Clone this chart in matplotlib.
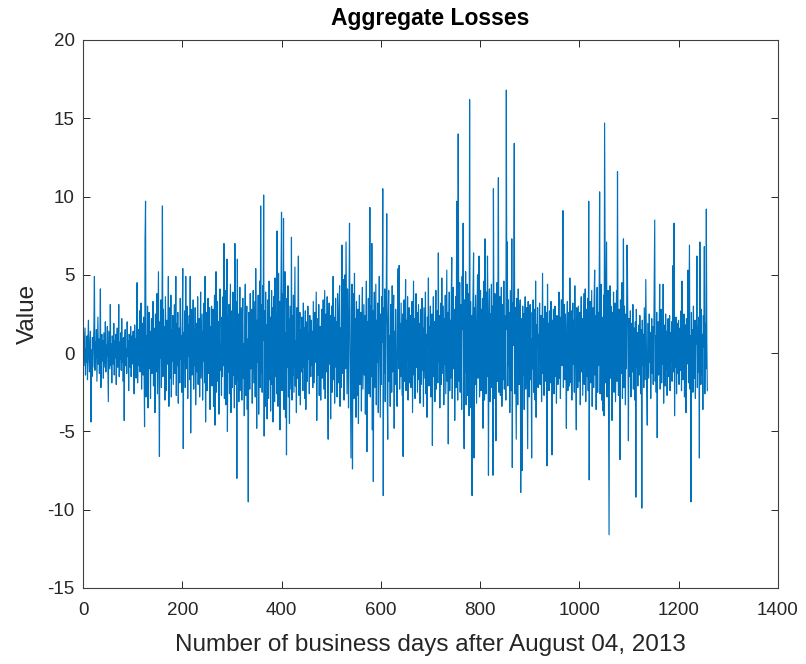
import numpy as np
import matplotlib
matplotlib.use("Agg")
import matplotlib.pyplot as plt

# daily aggregate losses (day 0 .. 1258)
losses = [
    2.7, 1.2, -0.8, 0.5, 1.6, -1.4, 0.3, -0.6, 1.1, -1.7, 0.9, 2.1, -0.4, -1.2, 0.6, 1.4, -4.4, 0.2, -1.5, 1.0,
    -0.9, 0.4, 1.8, 4.9, -1.1, 0.7, -0.3, 1.5, -1.8, 0.2, 2.3, -0.7, 0.9, -1.3, 0.1, 4.1, -2.2, 0.6, 1.2, -0.5,
    0.8, -1.6, 1.3, 0.2, -0.9, 2.0, -1.2, 0.5, -0.2, 1.7, -0.6, -3.1, 1.4, 0.3, -1.0, 3.1, -0.8, 0.6, -1.9, 1.1,
    0.4, -0.7, 1.9, -1.4, 0.8, -0.3, 1.2, -2.0, 0.5, 1.6, -0.9, 0.2, 3.1, -1.5, 0.7, -0.4, 1.3, -1.1, 2.2, -0.6,
    0.9, -1.8, 1.0, -4.3, 0.6, 1.5, -0.8, 0.3, -1.3, 2.0, -0.2, 0.8, -2.4, 1.2, 0.4, -0.9, 1.7, -1.5, 0.1, 1.1,
    -0.7, 1.4, 0.2, -2.6, 1.8, -0.5, 0.9, -1.6, 2.4, 4.5, -1.9, 0.3, 1.5, -0.8, 2.7, -1.2, 0.6, 3.2, -2.3, 1.0,
    1.9, -1.4, 2.3, -0.6, -4.7, 7.2, 9.7, -2.8, 1.1, -1.7, 3.0, -3.5, 0.8, 2.6, -1.0, 1.4, -2.9, 0.5, 2.2, -1.3,
    0.7, 3.3, -2.1, 1.6, -0.4, -3.8, 2.5, -1.2, 0.9, 3.8, -2.6, 1.3, 5.2, -1.8, -6.6, 2.0, -0.3, 3.4, -2.2, 1.0,
    9.4, -1.5, 2.8, -0.9, 1.7, -3.0, 3.6, 0.4, -2.4, 2.1, -0.7, 1.2, 4.9, -3.4, 0.6, 2.9, -1.6, 3.7, -2.8, 1.5,
    -0.5, 2.4, -2.0, 0.8, 3.1, -1.3, 0.2, 4.9, -2.7, 1.9, -0.8, 2.6, -3.2, 0.9, 1.6, -1.9, 3.5, -0.4, 1.1, -2.5,
    2.0, 5.4, -6.1, 1.3, -0.6, 2.7, -2.2, 4.9, -1.0, 0.5, 3.0, -2.9, 1.8, -0.2, 2.4, -1.7, 4.9, -5.1, 1.2, 2.8,
    -1.4, 0.7, 3.4, -2.3, 1.5, -0.8, 2.9, -3.3, 0.3, 1.9, -1.2, 3.6, -2.0, 0.6, 2.2, -2.8, 1.0, 3.9, -1.6, 0.4,
    2.5, -3.0, 1.4, -0.5, 3.2, -1.9, 4.9, -4.4, 0.8, 2.6, -2.4, 1.1, 3.5, -1.3, 0.2, 2.9, -3.6, 1.7, -0.7, 3.0,
    -2.1, 1.6, 2.8, -3.4, 0.9, 3.7, -4.6, 1.2, 5.2, -2.5, 0.4, 3.3, -1.8, 2.0, -3.9, 1.5, 4.1, -1.1, 0.6, -2.7,
    2.3, -1.5, 3.6, -0.8, 7.0, -2.9, 1.8, 4.0, -3.3, 0.5, 6.0, -5.0, 2.4, -1.2, 3.1, -2.6, 1.0, 4.4, -3.8, 0.7,
    2.7, -2.2, 3.9, -1.4, 1.2, -3.5, 7.0, 0.8, -2.0, 3.3, -8.0, 6.0, -1.7, 2.5, -3.1, 1.4, 4.2, -2.4, 0.3, 2.9,
    -3.0, 1.9, 3.5, -1.6, 0.6, -4.0, 2.2, 4.4, -2.7, 1.3, 3.0, -3.6, 0.9, -9.5, 2.6, 1.1, -2.3, 3.8, -1.0, 0.4,
    2.8, -3.2, 1.5, 4.0, -1.9, 0.7, 3.3, -2.8, 5.4, 1.0, -4.8, 2.1, -0.6, 3.7, -3.9, 1.6, 4.6, -2.2, 9.4, -1.3,
    3.1, -2.5, 4.3, 0.8, 10.1, -5.3, 2.7, -3.4, 3.9, -1.2, 1.8, -4.2, 3.4, 0.5, -2.9, 4.6, -1.7, 2.3, -3.7, 1.2,
    4.0, -2.0, 2.9, -4.4, 3.6, 0.9, -3.1, 4.8, -1.5, 2.5, -2.6, 7.8, 1.4, -3.4, 5.1, -0.8, 3.3, -4.9, 2.0, 4.5,
    9.0, -2.4, 3.8, -1.1, 8.6, -3.6, 2.6, 5.2, -4.1, 1.3, -6.5, 3.5, -0.9, 4.3, -2.8, 2.2, -4.5, 3.0, 0.6, -2.3,
    7.4, -3.0, 2.4, -1.4, 3.7, -2.5, 1.1, 5.5, -2.1, 0.8, -3.8, 2.9, -1.6, 1.9, 6.2, -2.7, 0.4, 2.6, -3.3, 1.5,
    -1.2, 2.3, 0.5, -2.4, 3.2, -0.9, 1.6, -2.9, 2.7, -3.6, 0.7, 2.0, -1.8, 3.0, -0.4, 1.3, -2.6, 2.4, 0.2, -1.5,
    2.1, -0.8, 1.4, -2.2, 3.3, 0.4, -1.9, 2.6, -0.6, 1.8, 3.9, -4.3, 0.9, 2.2, -1.4, 3.1, -2.7, 0.6, 1.7, -3.0,
    1.3, 2.8, -1.6, 0.5, 3.4, -2.3, 1.0, 4.0, -2.9, 0.2, 2.5, -1.2, 3.6, -2.0, -5.5, 1.9, 3.2, -0.7, 2.4, -4.2,
    1.1, 3.0, -2.5, 0.8, 4.9, -1.7, 2.3, -3.2, 1.4, 3.5, -0.9, 2.0, -2.8, 3.8, 0.3, -1.9, 2.7, 4.3, -3.4, 1.6,
    -2.2, 3.4, 6.9, -1.3, 2.6, 4.7, -3.0, 1.8, 5.0, -1.0, 7.1, 2.4, -2.6, 4.1, 0.9, -3.5, 3.6, 8.3, 1.2, -2.4,
    -6.7, 2.9, 4.4, -7.4, 1.7, 3.8, -2.9, 5.1, -1.6, 2.2, -4.1, 3.3, 0.6, -2.7, 2.8, -4.5, 1.5, 3.7, -2.0, 0.9,
    2.6, -3.7, 1.9, 4.2, -2.3, 0.5, 3.1, -1.4, 2.4, -3.9, 1.2, 4.6, -6.3, 2.0, -1.1, 3.5, -2.6, 1.0, 9.3, -2.8,
    3.0, -1.5, 7.0, -4.9, 2.7, -8.2, 1.6, 3.9, -2.2, 0.8, 4.4, -3.3, 2.1, -0.6, 3.2, -3.8, 1.3, 4.9, 0.2, -4.1,
    2.5, -2.0, 3.6, 0.7, 10.5, -9.1, 2.9, -1.3, 4.1, -3.1, 1.8, 3.3, 8.9, -2.4, -5.5, 2.2, 4.0, -1.8, 1.1, -3.4,
    3.1, 0.6, -2.5, 4.3, -1.2, 2.0, 3.7, -4.8, 1.4, -2.0, 2.8, 0.3, -2.8, -3.4, 3.5, 5.4, -1.0, 5.6, -2.3, 1.9,
    -1.5, 3.2, 0.4, -2.7, 2.5, -6.6, 1.7, 3.4, -1.8, 0.9, 4.7, -2.4, 2.1, -0.5, 3.6, -3.0, 1.3, 2.9, -1.9, 0.7,
    2.4, -2.2, 1.5, 3.3, -3.8, 0.8, 4.6, -1.4, 2.2, -2.9, 1.1, 3.8, -0.9, 2.6, -2.5, 0.5, 3.1, -1.7, 1.9, -3.2,
    2.8, 0.3, -2.0, 3.5, -1.1, 1.6, -3.4, 2.9, 0.6, -1.6, 3.9, -2.6, 1.2, -4.1, 2.3, 0.4, 4.8, -2.1, 1.7, -0.8,
    3.0, -2.8, 1.4, 2.5, -5.9, 0.9, 3.6, -1.5, 2.0, -3.1, 1.1, 4.0, -2.3, 0.7, 2.7, -1.9, 6.4, -0.6, 2.4, -3.5,
    1.6, 3.2, -2.0, 4.8, -1.3, 0.8, 3.0, -3.3, 2.2, -0.7, 3.7, -2.6, 1.5, 5.3, -1.8, 2.6, -5.8, 1.0, 3.9, -2.4,
    2.1, -1.6, 3.4, 6.1, -2.9, 1.3, 4.2, -1.0, 2.8, -4.3, 0.6, 3.6, -2.2, 9.7, 1.9, -3.0, 14.0, 2.7, -1.8, 4.5,
    -2.5, 3.1, 0.8, -3.6, 4.9, 1.5, 8.3, -2.1, -6.1, 3.4, -1.2, 5.2, -3.3, 2.0, 4.4, -2.7, 1.1, 3.8, -4.0, 16.2,
    -1.4, 3.3, -3.5, 2.4, -9.1, 1.7, 4.3, 6.4, -6.7, 2.9, -2.0, 3.7, 0.5, -3.2, 2.6, 5.0, -1.6, 3.1, 6.2, -2.8,
    1.9, 4.0, -2.4, 2.8, -0.9, 3.5, -4.8, 1.2, 4.6, -3.0, 7.3, 0.8, -2.6, 3.9, -1.5, 6.2, 2.3, -7.8, 1.6, 4.1,
    -3.1, 2.5, 0.7, 4.4, -2.2, 3.0, -7.8, 10.5, 1.4, -2.9, 3.8, 0.6, -5.6, 2.7, 4.5, -1.8, 3.2, 11.2, -2.5, 1.0,
    3.6, -2.7, 1.8, 4.2, -3.4, 0.9, 3.1, -1.7, 4.6, -2.3, 2.4, 0.2, -3.0, 16.8, 1.5, 7.1, -2.1, 3.4, -0.8, 2.6,
    -3.8, 4.0, 1.1, -2.4, 7.3, -7.3, 3.2, 0.5, 4.8, 13.4, -2.6, 2.9, -1.3, -5.5, 3.5, 1.6, -3.3, 4.1, 0.4, -2.0,
    2.7, 3.4, -8.9, 1.3, 2.2, -7.5, 3.0, -1.4, 2.5, -3.6, 1.0, 3.6, -2.3, 0.8, 2.9, -1.9, -6.1, 3.3, 0.6, -2.8,
    2.0, 3.1, -1.7, 0.9, -6.7, 2.6, -1.0, 3.4, -2.5, 1.5, 2.8, -3.0, 4.6, -4.1, 1.8, 0.4, 2.9, -2.2, 1.2, -0.6,
    3.2, -2.0, 1.0, 2.4, -3.1, 0.7, 5.1, -1.3, 2.2, -2.7, 1.6, 3.0, -1.8, 0.5, 2.6, -7.2, 4.4, -0.9, 1.9, -2.4,
    2.7, 0.3, -1.9, 3.3, 1.2, -6.5, 2.1, -1.1, 2.8, -2.6, 0.8, 3.0, -1.5, 1.7, -3.2, 2.4, 0.6, -2.0, 1.4, 3.9,
    -1.6, 2.3, -2.9, 1.1, 3.4, -0.8, 2.0, 9.1, -2.2, 0.9, 3.1, -1.7, 2.5, -0.5, -4.8, 1.8, 3.3, -2.4, 0.7, 2.6,
    -2.1, 4.8, 0.5, -1.9, 2.7, -3.0, 1.4, 3.2, -0.7, 2.1, -2.5, 4.3, 0.8, -1.6, -4.9, 2.9, 1.1, -2.2, 3.0, 0.4,
    -1.8, 2.6, -3.3, 1.7, 3.6, -1.2, 2.2, -2.7, 0.9, 3.8, -2.0, 1.5, 4.1, -3.1, 0.6, 2.8, -1.5, 3.5, -2.4, 9.7,
    -8.1, 2.0, 3.3, -1.9, 1.2, 4.0, -3.4, 0.7, 2.9, -2.2, 3.6, 5.3, -1.4, 2.4, -3.6, 1.0, 4.2, -2.5, 2.6, -0.8,
    3.1, 10.3, -2.6, 1.5, 4.4, -3.0, 2.3, 0.6, -3.7, 3.7, -4.0, 14.7, 7.1, -1.9, 2.8, 7.1, -2.8, 1.8, 4.0, -3.5,
    -11.6, 2.4, 4.3, -1.6, 3.0, 0.8, -4.3, 2.6, -1.2, 3.9, -2.5, 1.4, 3.2, -3.1, 0.5, 4.0, -1.8, 11.6, 1.9, -2.7,
    2.8, 0.6, -6.8, 3.4, -1.3, 2.1, 4.5, -2.9, 1.2, 7.3, -2.2, 3.0, 0.4, -3.3, 2.5, -1.0, 6.9, 5.7, 0.8, -5.6,
    2.2, -1.5, 1.0, 2.7, -2.8, 0.4, 1.9, -1.2, 3.1, -2.3, 0.7, 1.6, -3.0, 2.0, -9.2, 2.8, -0.9, 1.3, -2.1, 0.6,
    1.8, -1.4, 2.4, 0.2, -2.6, 1.5, -9.9, 2.1, -0.8, 1.2, -2.2, 2.9, 0.5, -1.7, 4.7, 1.0, -2.4, -4.6, 1.9, 0.3,
    -1.6, 2.5, -0.6, 1.3, -2.9, 0.8, 2.2, -1.3, 1.7, -2.0, 0.4, 4.2, 8.5, -1.8, 1.1, -2.5, 2.6, -5.4, 0.9, 2.0,
    -1.4, 1.2, 4.4, -2.3, 0.6, 2.8, -1.9, 1.5, -0.7, 4.4, -3.2, 1.8, 0.3, -2.1, 2.5, -1.0, 1.4, -2.7, 0.8, 2.2,
    -1.5, 0.9, 2.4, -2.4, 1.3, -0.5, 2.0, -1.8, 0.7, 5.6, -1.2, 8.3, -4.0, 1.6, -0.9, 2.3, -2.6, 0.5, 1.9, -1.3,
    2.1, -2.0, 0.8, 1.6, -1.1, 2.7, -2.4, 4.6, 0.3, -1.7, 1.4, 2.5, -2.8, 0.6, 1.8, -3.8, 2.2, -0.7, 1.0, 5.3,
    -1.9, 2.4, 6.9, -2.3, 1.1, -9.5, 2.6, -0.8, 1.5, -2.5, 3.0, 0.2, -1.6, 2.1, -2.9, 1.3, 0.6, 6.2, -2.2, 1.7,
    -1.2, 2.3, -6.7, 7.1, 0.5, -2.0, 2.8, -1.4, 1.2, -3.6, 2.4, 0.4, 6.8, -2.6, 1.9, -1.0, 9.2, 0.6, -2.4,
]
days = np.arange(len(losses))

xticks = [0, 200, 400, 600, 800, 1000, 1200, 1400]
yticks = [-15, -10, -5, 0, 5, 10, 15, 20]

plt.rcParams['font.family'] = ['Liberation Sans', 'DejaVu Sans']
plt.rcParams['axes.unicode_minus'] = False
axcol = '#262626'

fig = plt.figure(figsize=(8.06, 6.64), dpi=100)
ax = fig.add_axes([0.103, 0.1145, 0.862, 0.8253])
ax.plot(days, losses, color='#0072BD', linewidth=0.85)

ax.set_xlim(0, 1400)
ax.set_ylim(-15, 20)
ax.set_xticks(xticks)
ax.set_yticks(yticks)
ax.tick_params(axis='x', pad=10)
ax.tick_params(axis='y', pad=6)
ax.tick_params(direction='in', length=5, width=0.7, colors=axcol, labelsize=13.5,
               top=True, right=True)
for s in ax.spines.values():
    s.set_color('#404040')
    s.set_linewidth(0.8)

ax.set_title('Aggregate Losses', fontsize=16.5, fontweight='bold', color='black', pad=11)
ax.set_xlabel('Number of business days after August 04, 2013', fontsize=17.5, color=axcol, labelpad=11)
ax.set_ylabel('Value', fontsize=17.5, color=axcol, labelpad=6)

fig.savefig('out.png', dpi=100)
